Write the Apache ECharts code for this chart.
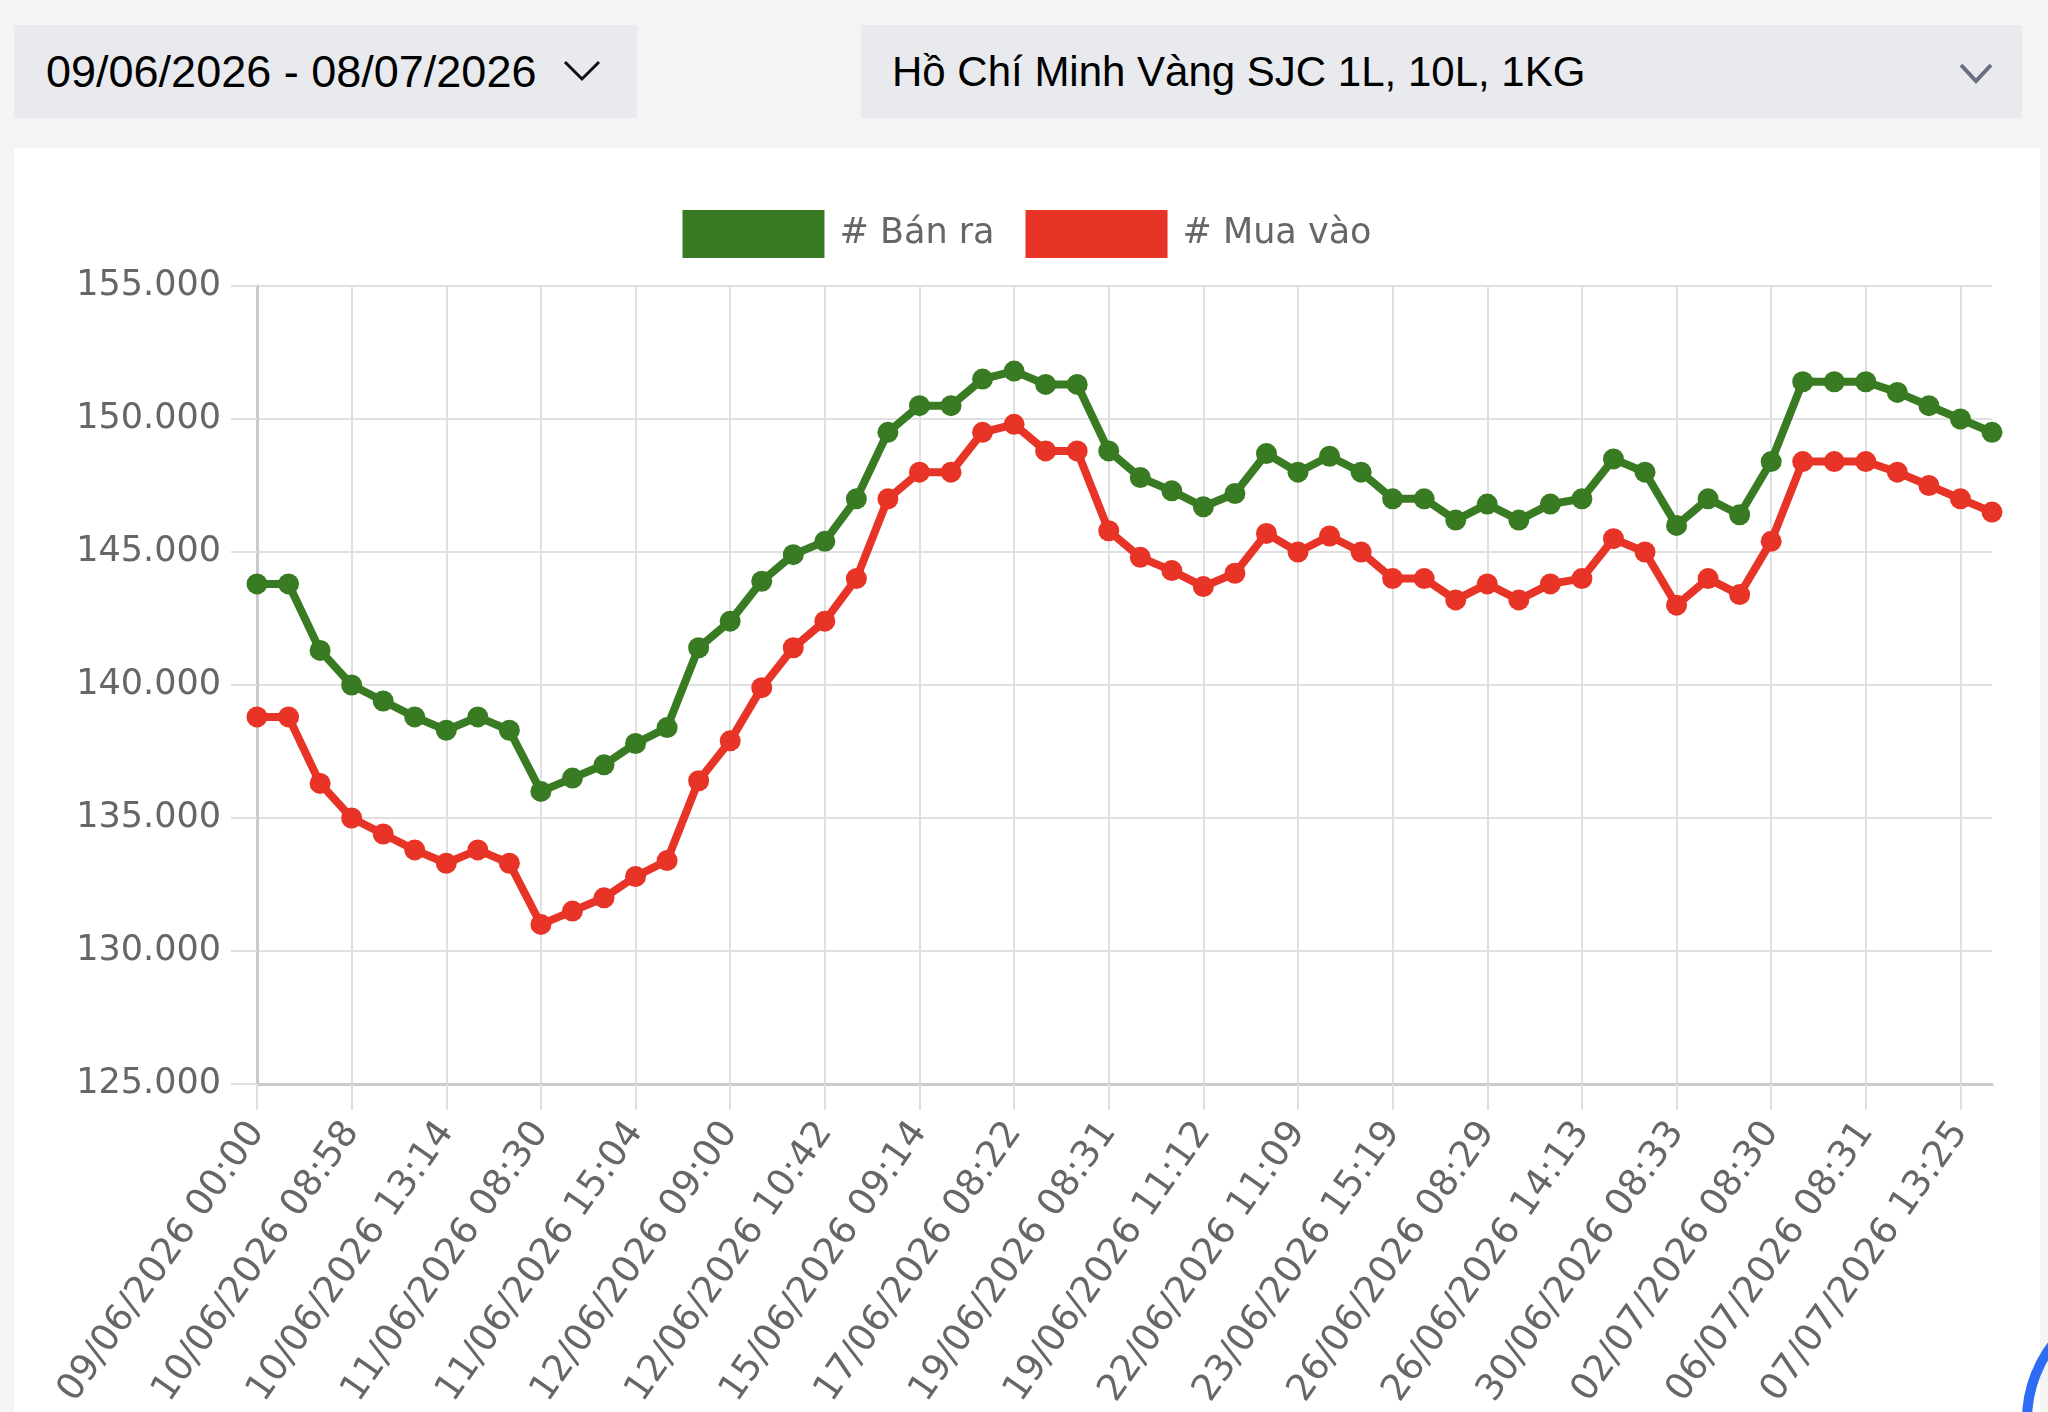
<!DOCTYPE html>
<html>
<head>
<meta charset="utf-8">
<script src="https://cdn.jsdelivr.net/npm/echarts@6/dist/echarts.min.js"></script>
<style>
html,body{margin:0;padding:0;width:2048px;height:1412px;overflow:hidden;background:#f4f4f4;font-family:"Liberation Sans",Arial,sans-serif;}
.box{position:absolute;background:#e9eaee;}
.box span{position:absolute;top:0;line-height:93px;color:#000;white-space:nowrap;}
.box svg{position:absolute;}
#chart{position:absolute;left:14px;top:148px;width:2026px;height:1264px;background:#fff;}
#ring{position:absolute;left:2022px;top:1291px;width:258px;height:258px;border:10px solid #2f6cf5;border-radius:50%;box-sizing:border-box;}
</style>
</head>
<body>
<div class="box" style="left:14px;top:25px;width:623px;height:93px;">
  <span style="left:32px;font-size:45px;">09/06/2026 - 08/07/2026</span>
  <svg style="left:548px;top:34px;" width="40" height="24" viewBox="0 0 40 24"><polyline points="3,3 20,20 37,3" fill="none" stroke="#111" stroke-width="3"/></svg>
</div>
<div class="box" style="left:861px;top:25px;width:1161px;height:93px;">
  <span style="left:31px;font-size:42px;">Hồ Chí Minh Vàng SJC 1L, 10L, 1KG</span>
  <svg style="left:1096px;top:36px;" width="38" height="24" viewBox="0 0 38 24"><polyline points="4,4 19,20 34,4" fill="none" stroke="#6b7080" stroke-width="4"/></svg>
</div>
<div id="chart"></div>
<div id="ring"></div>
<script>
// Tick labels shown on the x axis (every third observation)
const tickLabels = [
  '09/06/2026 00:00','10/06/2026 08:58','10/06/2026 13:14','11/06/2026 08:30',
  '11/06/2026 15:04','12/06/2026 09:00','12/06/2026 10:42','15/06/2026 09:14',
  '17/06/2026 08:22','19/06/2026 08:31','19/06/2026 11:12','22/06/2026 11:09',
  '23/06/2026 15:19','26/06/2026 08:29','26/06/2026 14:13','30/06/2026 08:33',
  '02/07/2026 08:30','06/07/2026 08:31','07/07/2026 13:25'
];
// Bán ra (sell) prices
const banRa = [
  143800,143800,141300,140000,139400,138800,138300,138800,138300,136000,
  136500,137000,137800,138400,141400,142400,143900,144900,145400,147000,
  149500,150500,150500,151500,151800,151300,151300,148800,147800,147300,
  146700,147200,148700,148000,148600,148000,147000,147000,146200,146800,
  146200,146800,147000,148500,148000,146000,147000,146400,148400,151400,
  151400,151400,151000,150500,150000,149500
];
// Mua vào (buy) prices
const muaVao = [
  138800,138800,136300,135000,134400,133800,133300,133800,133300,131000,
  131500,132000,132800,133400,136400,137900,139900,141400,142400,144000,
  147000,148000,148000,149500,149800,148800,148800,145800,144800,144300,
  143700,144200,145700,145000,145600,145000,144000,144000,143200,143800,
  143200,143800,144000,145500,145000,143000,144000,143400,145400,148400,
  148400,148400,148000,147500,147000,146500
];
const seriesNames = ['# Bán ra', '# Mua vào'];
const yTicks = {min:125000, max:155000, step:5000};

const categories = banRa.map((_, i) => (i % 3 === 0 ? tickLabels[i / 3] : ''));
const GREEN = '#387b22', RED = '#e73427';
const FONT = 'DejaVu Sans';
const grid = '#e0e0e0';
const fmt = v => String(v).replace(/\B(?=(\d{3})+(?!\d))/g, '.');

const chart = echarts.init(document.getElementById('chart'), null, {renderer:'canvas'});
chart.setOption({
  animation:false,
  backgroundColor:'#fff',
  grid:{left:243, right:48, top:138, bottom:328, containLabel:false, outerBoundsMode:'none'},
  legend:{
    top:57, left:'center', itemWidth:142, itemHeight:48, itemGap:31, icon:'rect',
    textStyle:{fontFamily:FONT, fontSize:35, color:'#666', padding:[0,0,0,10]},
    data:[{name:seriesNames[0], itemStyle:{color:GREEN}}, {name:seriesNames[1], itemStyle:{color:RED}}]
  },
  xAxis:{
    type:'category', data:categories, boundaryGap:false,
    axisLine:{lineStyle:{color:'#cbcbcb', width:3}},
    axisTick:{show:true, interval:2, length:26, lineStyle:{color:grid, width:2}},
    axisLabel:{interval:2, rotate:55, margin:42, fontFamily:FONT, fontSize:37, color:'#666', hideOverlap:false},
    splitLine:{show:true, interval:2, lineStyle:{color:grid, width:2}}
  },
  yAxis:{
    type:'value', min:yTicks.min, max:yTicks.max, interval:yTicks.step,
    axisLine:{show:true, lineStyle:{color:'#cbcbcb', width:3}},
    axisTick:{show:true, length:26, lineStyle:{color:grid, width:2}},
    axisLabel:{margin:36, formatter:fmt, fontFamily:FONT, fontSize:35, color:'#666'},
    splitLine:{show:true, lineStyle:{color:grid, width:2}}
  },
  series:[
    {name:seriesNames[0], type:'line', data:banRa, symbol:'circle', symbolSize:21, showSymbol:true, showAllSymbol:true,
     lineStyle:{width:8, color:GREEN}, itemStyle:{color:GREEN}, z:3},
    {name:seriesNames[1], type:'line', data:muaVao, symbol:'circle', symbolSize:21, showSymbol:true, showAllSymbol:true,
     lineStyle:{width:8, color:RED}, itemStyle:{color:RED}, z:2}
  ]
});
</script>
</body>
</html>
